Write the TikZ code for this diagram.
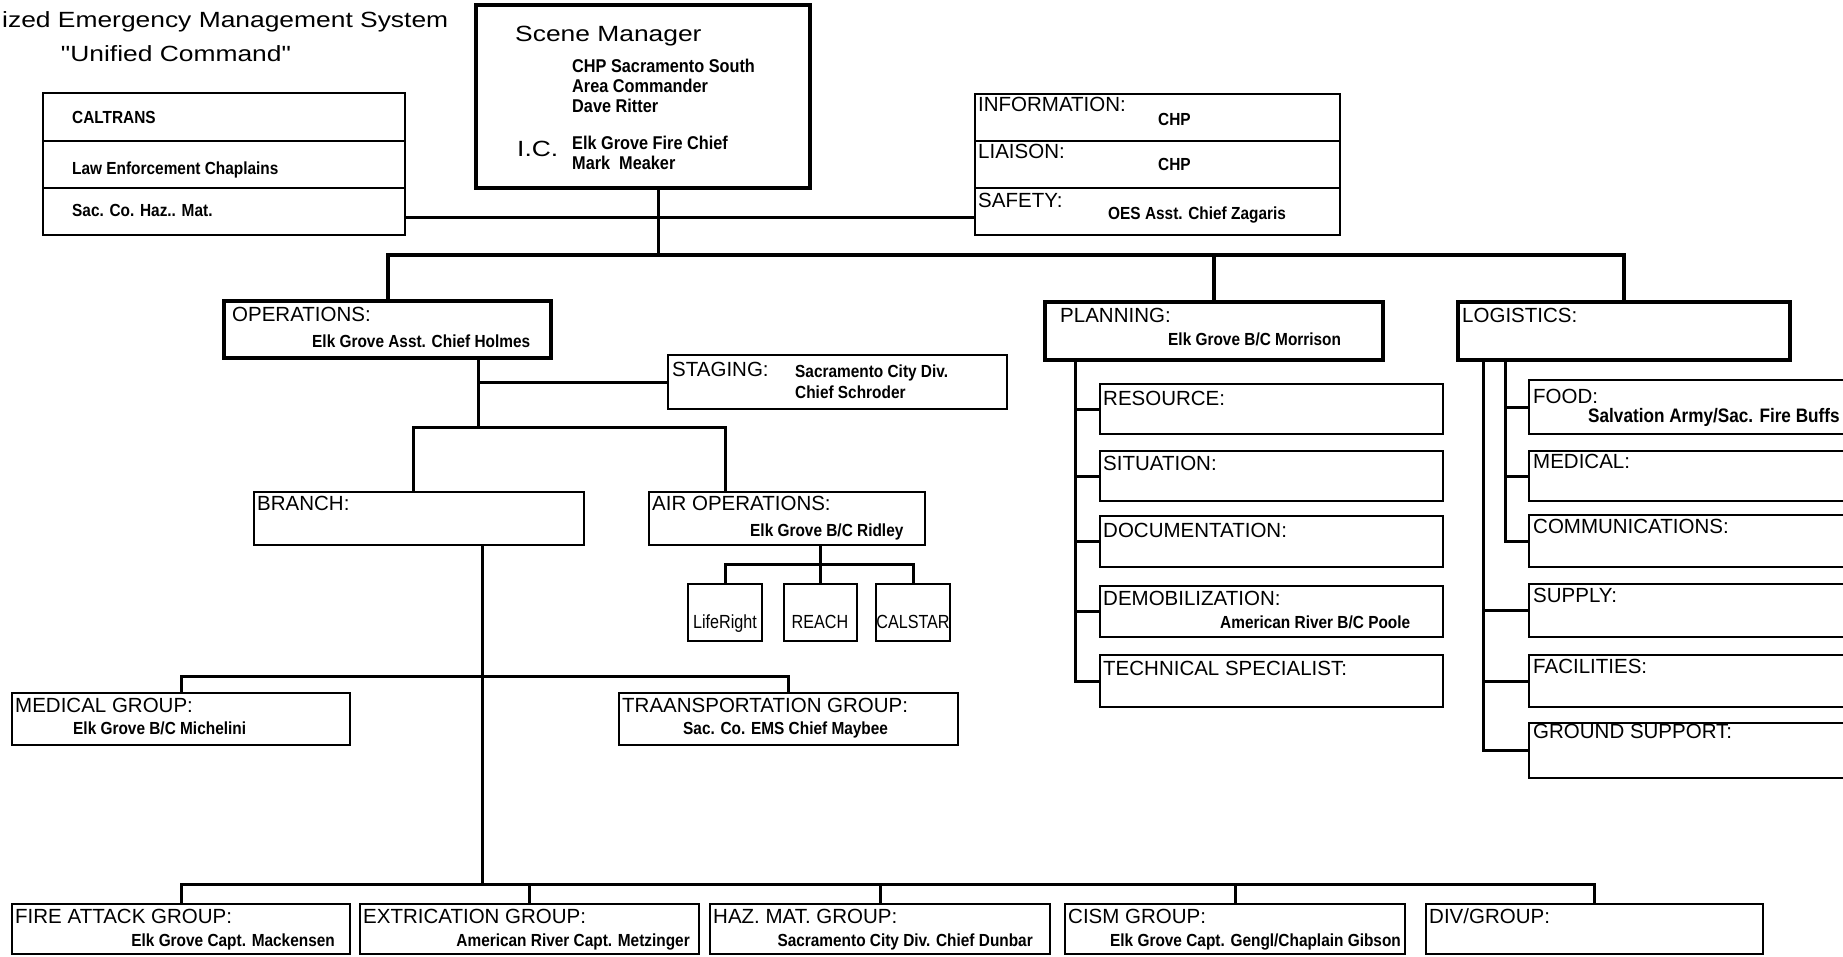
\documentclass[tikz,border=0pt]{standalone}
\usepackage{fontspec}
\setmainfont{Liberation Sans}
\newfontfamily\bigf[FakeStretch=1.2]{Liberation Sans}
\newfontfamily\namef[FakeStretch=0.88]{Liberation Sans}
\newfontfamily\narrowf[FakeStretch=0.85]{Liberation Sans}
\usetikzlibrary{calc}
\begin{document}
\begin{tikzpicture}[x=1pt,y=-1pt,
  conn/.style={line width=3pt},
  box/.style={draw, line width=2.5pt, anchor=north west, inner sep=0pt, outer sep=0pt},
  tbox/.style={box, line width=4.5pt},
  lab/.style={inner sep=0pt, anchor=base west, font=\fontsize{20.5}{24}\selectfont},
  nm/.style={inner sep=0pt, anchor=base west, font=\namef\bfseries\fontsize{17.5}{20}\selectfont},
  nmb/.style={nm, font=\namef\bfseries\fontsize{18.5}{20}\selectfont},
  nme/.style={nm, anchor=base east},
  big/.style={inner sep=0pt, anchor=base west, font=\bigf\fontsize{22}{26}\selectfont},
  sm/.style={inner sep=0pt, anchor=base, font=\narrowf\fontsize{19}{22}\selectfont}]
\useasboundingbox (0,0) rectangle (1843,957);
\clip (0,0) rectangle (1843,957);

% reference coordinates
\coordinate (stk) at (0,218);
\coordinate (topbus) at (0,255);
\coordinate (opsbus) at (0,427);
\coordinate (airbus) at (0,564);
\coordinate (medbus) at (0,676);
\coordinate (botbus) at (0,884);
\coordinate (pv) at (1075,0);
\coordinate (lo) at (1483,0);
\coordinate (li) at (1505,0);

% title
\node[big] (t1) at (2,28) {ized Emergency Management System};
\node[big, anchor=base] (t2) at (176,62) {"Unified Command"};

% left stack
\node[box, minimum width=362pt, minimum height=48pt] (ls1) at (43,93) {};
\node[box, minimum width=362pt, minimum height=47pt] (ls2) at (43,141) {};
\node[box, minimum width=362pt, minimum height=47pt] (ls3) at (43,188) {};
\node[nm] (ls1t) at (72,124) {CALTRANS};
\node[nm] (ls2t) at (72,175) {Law Enforcement Chaplains};
\node[nm] (ls3t) at (72,217) {Sac. Co. Haz.. Mat.};

% right stack
\node[box, minimum width=365pt, minimum height=47pt] (rs1) at (975,94) {};
\node[box, minimum width=365pt, minimum height=47pt] (rs2) at (975,141) {};
\node[box, minimum width=365pt, minimum height=47pt] (rs3) at (975,188) {};
\node[lab] (rs1l) at (978,112) {INFORMATION:};
\node[nm] (rs1n) at (1158,126) {CHP};
\node[lab] (rs2l) at (978,159) {LIAISON:};
\node[nm] (rs2n) at (1158,171) {CHP};
\node[lab] (rs3l) at (978,208) {SAFETY:};
\node[nm] (rs3n) at (1108,220) {OES Asst. Chief Zagaris};

% scene manager
\node[tbox, minimum width=334pt, minimum height=183pt] (scene) at (476,5) {};
\node[big] (smt) at (515,42) {Scene Manager};
\node[nmb] (sm1) at (572,73) {CHP Sacramento South};
\node[nmb] (sm2) at (572,93) {Area Commander};
\node[nmb] (sm3) at (572,113) {Dave Ritter};
\node[big] (ic) at (517,157) {I.C.};
\node[nmb] (sm4) at (572,150) {Elk Grove Fire Chief};
\node[nmb] (sm5) at (572,170) {Mark\ \ Meaker};

% operations side
\node[tbox, minimum width=327pt, minimum height=57pt] (ops) at (224,301) {};
\node[lab] (opsl) at (232,322) {OPERATIONS:};
\node[nm] (opsn) at (312,347) {Elk Grove Asst. Chief Holmes};

\node[box, minimum width=339pt, minimum height=54pt] (staging) at (668,355) {};
\node[lab] (stl) at (672,376) {STAGING:};
\node[nm] (stn1) at (795,377) {Sacramento City Div.};
\node[nm] (stn2) at (795,398) {Chief Schroder};

\node[box, minimum width=330pt, minimum height=53pt] (branch) at (254,492) {};
\node[lab] (brl) at (257,510) {BRANCH:};

\node[box, minimum width=276pt, minimum height=53pt] (air) at (649,492) {};
\node[lab] (airl) at (652,510) {AIR OPERATIONS:};
\node[nm] (airn) at (750,536) {Elk Grove B/C Ridley};

\node[box, minimum width=74pt, minimum height=57pt] (life) at (688,584) {};
\node[box, minimum width=73pt, minimum height=57pt] (reach) at (784,584) {};
\node[box, minimum width=74pt, minimum height=57pt] (cal) at (876,584) {};
\node[sm] (lifet) at (725,628) {LifeRight};
\node[sm] (reacht) at (820,628) {REACH};
\node[sm] (calt) at (913,628) {CALSTAR};

\node[box, minimum width=338pt, minimum height=52pt] (medg) at (12,693) {};
\node[lab] (medgl) at (15,712) {MEDICAL GROUP:};
\node[nm] (medgn) at (73,734) {Elk Grove B/C Michelini};
\node[box, minimum width=339pt, minimum height=52pt] (trans) at (619,693) {};
\node[lab] (transl) at (622,712) {TRAANSPORTATION GROUP:};
\node[nm] (transn) at (683,734) {Sac. Co. EMS Chief Maybee};

% bottom groups
\node[box, minimum width=338pt, minimum height=50pt] (fire) at (12,904) {};
\node[box, minimum width=339pt, minimum height=50pt] (extr) at (360,904) {};
\node[box, minimum width=340pt, minimum height=50pt] (haz) at (710,904) {};
\node[box, minimum width=340pt, minimum height=50pt] (cism) at (1065,904) {};
\node[box, minimum width=337pt, minimum height=50pt] (div) at (1426,904) {};
\node[lab] (firel) at (15,923) {FIRE ATTACK GROUP:};
\node[nme] (firen) at (335,946) {Elk Grove Capt. Mackensen};
\node[lab] (extrl) at (363,923) {EXTRICATION GROUP:};
\node[nme] (extrn) at (690,946) {American River Capt. Metzinger};
\node[lab] (hazl) at (713,923) {HAZ. MAT. GROUP:};
\node[nme] (hazn) at (1033,946) {Sacramento City Div. Chief Dunbar};
\node[lab] (cisml) at (1068,923) {CISM GROUP:};
\node[nme] (cismn) at (1401,946) {Elk Grove Capt. Gengl/Chaplain Gibson};
\node[lab] (divl) at (1429,923) {DIV/GROUP:};

% planning
\node[tbox, minimum width=338pt, minimum height=58pt] (plan) at (1045,302) {};
\node[lab] (planl) at (1060,323) {PLANNING:};
\node[nm] (plann) at (1168,345) {Elk Grove B/C Morrison};
\node[box, minimum width=343pt, minimum height=50pt] (res) at (1100,384) {};
\node[box, minimum width=343pt, minimum height=50pt] (sit) at (1100,451) {};
\node[box, minimum width=343pt, minimum height=51pt] (doc) at (1100,516) {};
\node[box, minimum width=343pt, minimum height=51pt] (demob) at (1100,586) {};
\node[box, minimum width=343pt, minimum height=52pt] (tech) at (1100,655) {};
\node[lab] (resl) at (1103,405) {RESOURCE:};
\node[lab] (sitl) at (1103,470) {SITUATION:};
\node[lab] (docl) at (1103,537) {DOCUMENTATION:};
\node[lab] (demobl) at (1103,605) {DEMOBILIZATION:};
\node[nm] (demobn) at (1220,628) {American River B/C Poole};
\node[lab] (techl) at (1103,675) {TECHNICAL SPECIALIST:};

% logistics
\node[tbox, minimum width=332pt, minimum height=58pt] (logi) at (1458,302) {};
\node[lab] (logil) at (1462,323) {LOGISTICS:};
\node[box, minimum width=400pt, minimum height=54pt] (food) at (1529,380) {};
\node[box, minimum width=400pt, minimum height=50pt] (lmed) at (1529,451) {};
\node[box, minimum width=400pt, minimum height=52pt] (comm) at (1529,515) {};
\node[box, minimum width=400pt, minimum height=53pt] (sup) at (1529,584) {};
\node[box, minimum width=400pt, minimum height=52pt] (fac) at (1529,655) {};
\node[box, minimum width=400pt, minimum height=55pt] (grd) at (1529,723) {};
\node[lab] (foodl) at (1533,403) {FOOD:};
\node[nm, font=\namef\bfseries\fontsize{19.5}{20}\selectfont] (foodn) at (1588,422) {Salvation Army/Sac. Fire Buffs};
\node[lab] (lmedl) at (1533,468) {MEDICAL:};
\node[lab] (comml) at (1533,533) {COMMUNICATIONS:};
\node[lab] (supl) at (1533,602) {SUPPLY:};
\node[lab] (facl) at (1533,673) {FACILITIES:};
\node[lab] (grdl) at (1533,738) {GROUND SUPPORT:};

% connectors: top
\coordinate (sct) at ([xshift=15pt]scene.south);
\draw[conn] (ls3.east |- stk) -- (rs3.west |- stk);
\draw[conn] (sct) -- (sct |- topbus);
\draw[conn, line width=4pt] (ops.north) -- (ops.north |- topbus) -- (logi.north |- topbus) -- (logi.north);
\draw[conn, line width=4pt] (plan.north |- topbus) -- (plan.north);

% connectors: operations
\coordinate (opt) at ([xshift=91pt]ops.south);
\draw[conn] (opt) -- (opt |- opsbus);
\draw[conn] (opt |- staging.west) -- (staging.west);
\coordinate (ad) at ([xshift=76pt]air.north west);
\coordinate (bd) at ([xshift=-6pt]branch.north);
\draw[conn] (bd) -- (bd |- opsbus) -- (ad |- opsbus) -- (ad);
\draw[conn] (air.south -| reach.north) -- (reach.north);
\draw[conn] (life.north) -- (life.north |- airbus) -- (cal.north |- airbus) -- (cal.north);

% connectors: branch
\coordinate (brt) at ([xshift=63pt]branch.south);
\draw[conn] (brt) -- (brt |- botbus);
\draw[conn] (medg.north) -- (medg.north |- medbus) -- (trans.north |- medbus) -- (trans.north);
\draw[conn] (fire.north) -- (fire.north |- botbus) -- (div.north |- botbus) -- (div.north);
\foreach \n in {extr,haz,cism} \draw[conn] (\n.north |- botbus) -- (\n.north);

% connectors: planning
\draw[conn] (plan.south -| pv) -- (pv |- tech.west) -- (tech.west);
\foreach \n in {res,sit,doc,demob} \draw[conn] (pv |- \n.west) -- (\n.west);

% connectors: logistics
\draw[conn] (logi.south -| lo) -- (lo |- grd.west) -- (grd.west);
\foreach \n in {sup,fac} \draw[conn] (lo |- \n.west) -- (\n.west);
\draw[conn] (logi.south -| li) -- (li |- comm.west) -- (comm.west);
\foreach \n in {food,lmed} \draw[conn] (li |- \n.west) -- (\n.west);
\end{tikzpicture}
\end{document}
